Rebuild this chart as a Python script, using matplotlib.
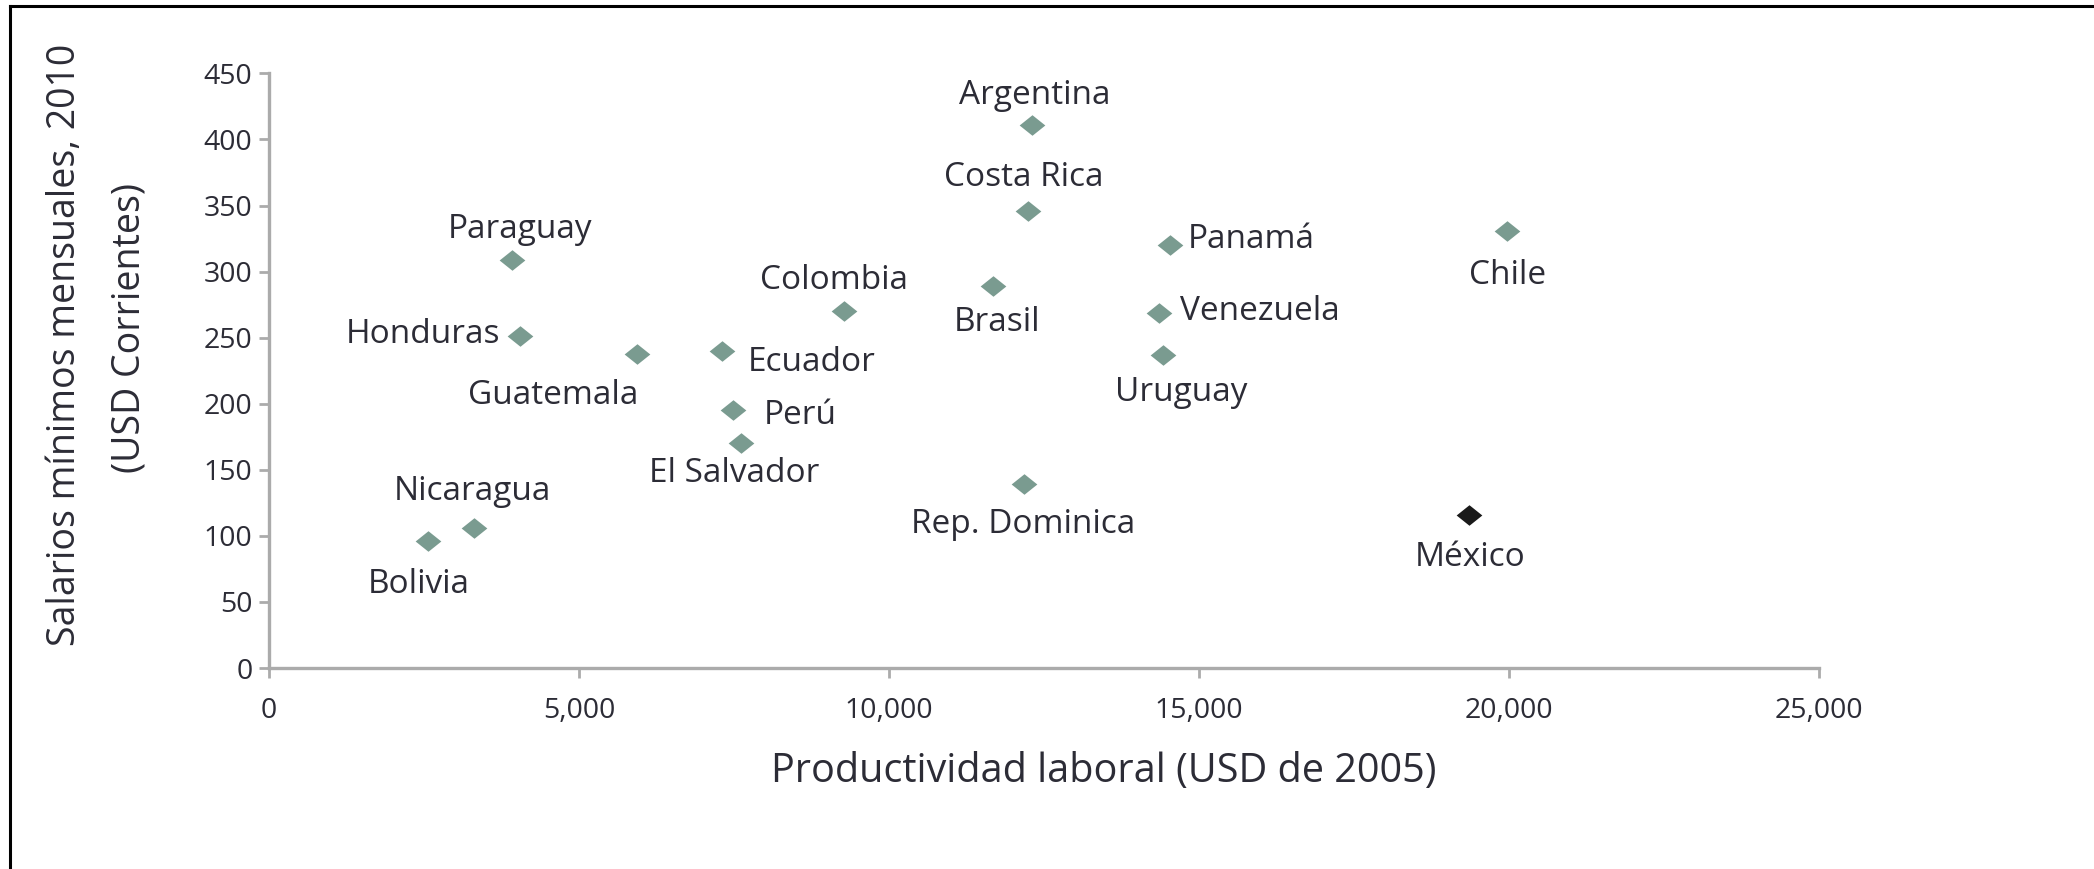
import matplotlib
matplotlib.use("Agg")
from matplotlib import pyplot as plt
from matplotlib.lines import Line2D
from matplotlib.ticker import FuncFormatter

plt.rcParams['font.family'] = ['Open Sans', 'DejaVu Sans']

# productividad laboral (USD de 2005) vs salario minimo mensual 2010 (USD corrientes)
countries = ['Argentina', 'Costa Rica', 'Panamá', 'Chile', 'Paraguay', 'Colombia',
             'Brasil', 'Venezuela', 'Honduras', 'Guatemala', 'Ecuador', 'Uruguay',
             'Perú', 'El Salvador', 'Rep. Dominica', 'México', 'Nicaragua', 'Bolivia']
productivity = [12300, 12240, 14530, 19960, 3920, 9270,
                11680, 14350, 4050, 5930, 7310, 14420,
                7480, 7610, 12180, 19350, 3300, 2570]
wages = [411, 346, 320, 331, 309, 270,
         289, 269, 251, 238, 240, 237,
         195, 170, 139, 116, 106, 96]
highlight = 'México'

x_ticks = [0, 5000, 10000, 15000, 20000, 25000]
y_ticks = [0, 50, 100, 150, 200, 250, 300, 350, 400, 450]

# label placement: (dx, dy) in points, horizontal alignment
label_pos = {
    'Argentina': (2, 21, 'center'),
    'Costa Rica': (-3, 24, 'center'),
    'Panamá': (13, 4, 'left'),
    'Chile': (1, -32, 'center'),
    'Paraguay': (6, 22, 'center'),
    'Colombia': (-7, 22, 'center'),
    'Brasil': (3, -26, 'center'),
    'Venezuela': (15, 1, 'left'),
    'Honduras': (-14, 1, 'right'),
    'Guatemala': (-60, -30, 'center'),
    'Ecuador': (18, -8, 'left'),
    'Uruguay': (13, -27, 'center'),
    'Perú': (22, -4, 'left'),
    'El Salvador': (-5, -22, 'center'),
    'Rep. Dominica': (-1, -29, 'center'),
    'México': (1, -31, 'center'),
    'Nicaragua': (-1, 26, 'center'),
    'Bolivia': (-7, -31, 'center'),
}

text_color = '#2c2c36'
marker_color = '#7a9b90'
spine_color = '#ababab'
diamond = [(-1.25, 0), (0, 1), (1.25, 0), (0, -1), (-1.25, 0)]

fig = plt.figure(figsize=(20.94, 8.69), dpi=100)
ax = fig.add_axes([0.1285, 0.2313, 0.7402, 0.6842])

for name, xv, yv in zip(countries, productivity, wages):
    col = '#1a1a1a' if name == highlight else marker_color
    ax.plot(xv, yv, marker=diamond, markersize=18.5, color=col, linestyle='none',
            markeredgewidth=0, clip_on=False)
    dx, dy, ha = label_pos[name]
    ax.annotate(name, (xv, yv), xytext=(dx, dy), textcoords='offset points',
                ha=ha, va='center', fontsize=24, color=text_color)

ax.set_xlim(0, 25000)
ax.set_ylim(0, 450)
ax.set_xticks(x_ticks)
ax.set_yticks(y_ticks)
ax.xaxis.set_major_formatter(FuncFormatter(lambda v, p: f"{v:,.0f}"))
ax.tick_params(axis='both', colors=spine_color, width=2, length=7, labelsize=20.5,
               labelcolor=text_color)
ax.tick_params(axis='x', pad=14)
ax.tick_params(axis='y', pad=5)

for side in ['top', 'right']:
    ax.spines[side].set_visible(False)
for side in ['left', 'bottom']:
    ax.spines[side].set_color(spine_color)
    ax.spines[side].set_linewidth(2.4)

fig.text(0.527, 0.112, 'Productividad laboral (USD de 2005)', ha='center', va='center',
         fontsize=28.5, color=text_color)
fig.text(0.031, 0.603, 'Salarios mínimos mensuales, 2010', ha='center', va='center',
         rotation=90, fontsize=27, color=text_color)
fig.text(0.062, 0.623, '(USD Corrientes)', ha='center', va='center',
         rotation=90, fontsize=27, color=text_color)

# frame lines (top and left only)
fig.add_artist(Line2D([0.005, 1.0], [0.993, 0.993], color='black', linewidth=2.2,
                      transform=fig.transFigure))
fig.add_artist(Line2D([0.005, 0.005], [0.0, 0.993], color='black', linewidth=2.2,
                      transform=fig.transFigure))

fig.savefig('out.png', dpi=100)
